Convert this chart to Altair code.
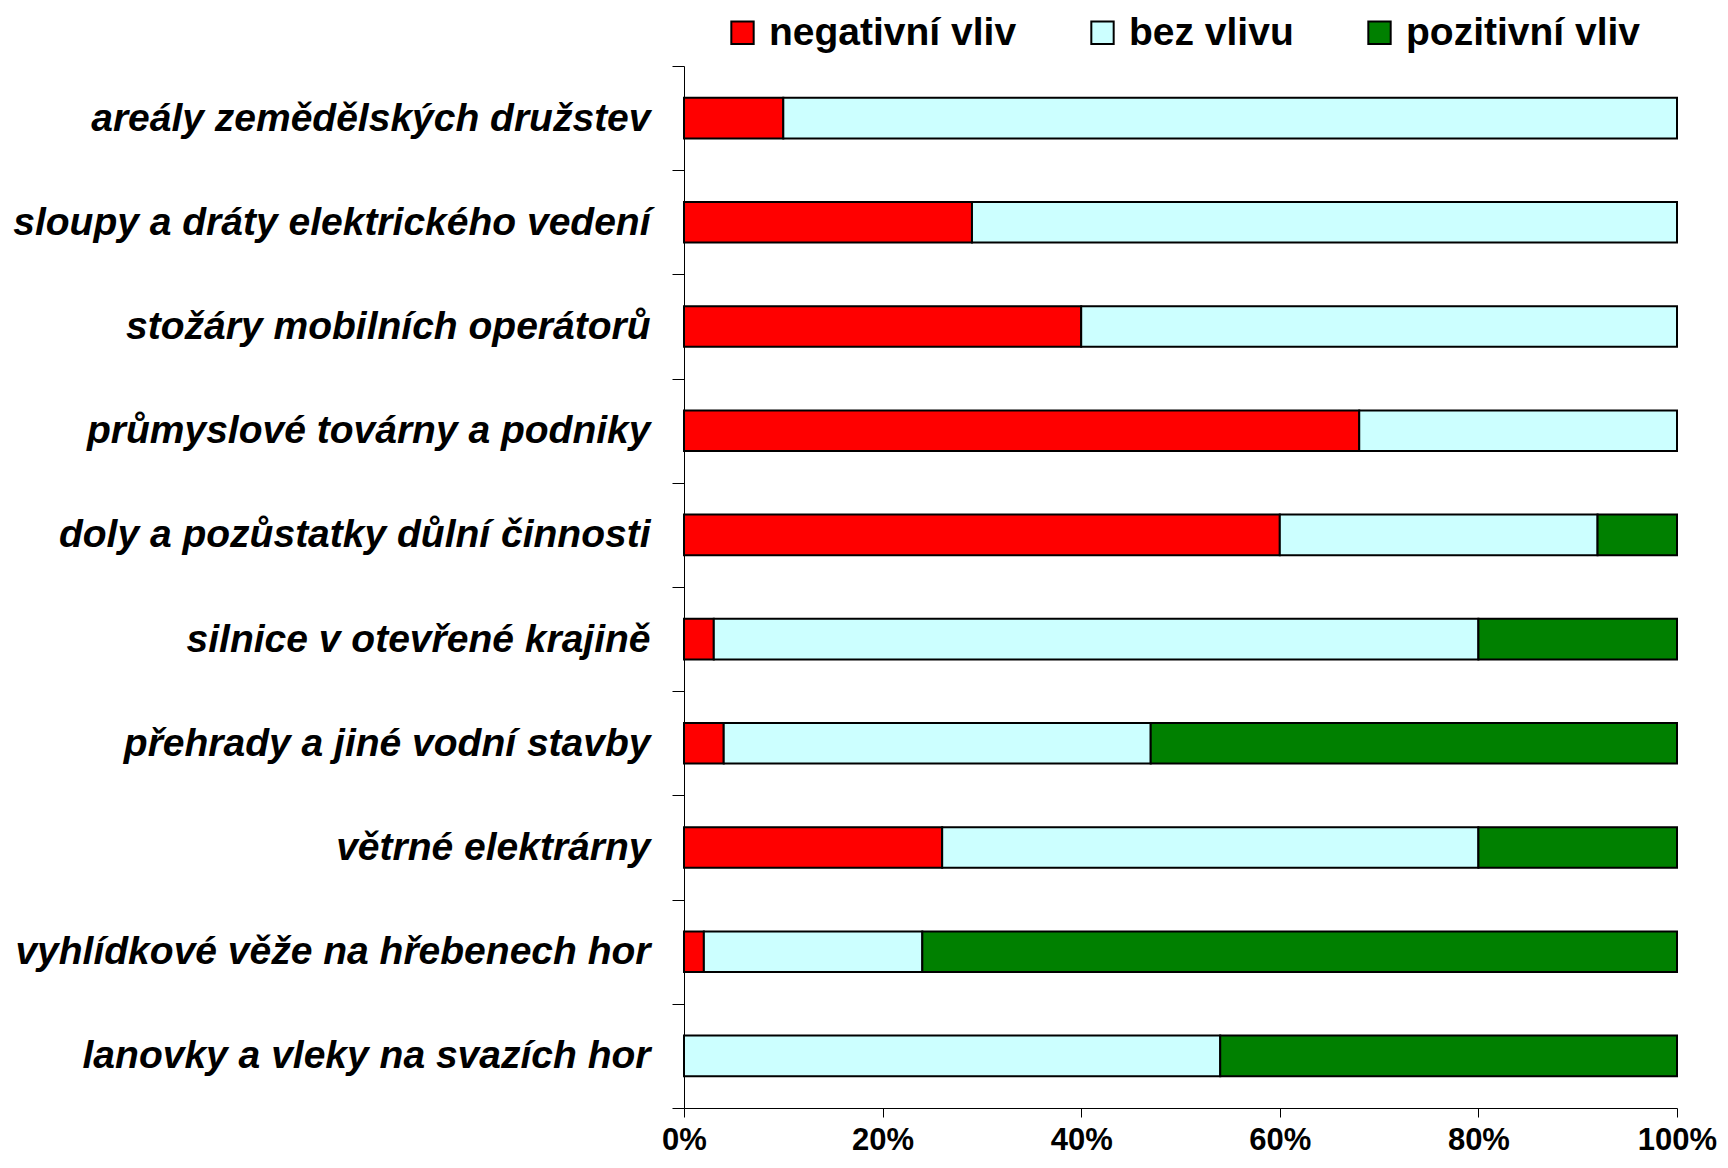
import altair as alt
import pandas as pd

categories = [
    "areály zemědělských družstev",
    "sloupy a dráty elektrického vedení",
    "stožáry mobilních operátorů",
    "průmyslové továrny a podniky",
    "doly a pozůstatky důlní činnosti",
    "silnice v otevřené krajině",
    "přehrady a jiné vodní stavby",
    "větrné elektrárny",
    "vyhlídkové věže na hřebenech hor",
    "lanovky a vleky na svazích hor",
]
negativni = [10, 29, 40, 68, 60, 3, 4, 26, 2, 0]
bez_vlivu = [90, 71, 60, 32, 32, 77, 43, 54, 22, 54]
pozitivni = [0, 0, 0, 0, 8, 20, 53, 20, 76, 46]
series = ["negativní vliv", "bez vlivu", "pozitivní vliv"]
colors = ["#FF0000", "#CCFFFF", "#008000"]
x_ticks = [0, 20, 40, 60, 80, 100]

rows = []
for i, cat in enumerate(categories):
    for j, vals in enumerate([negativni, bez_vlivu, pozitivni]):
        rows.append({"kategorie": cat, "serie": series[j], "poradi": j, "hodnota": vals[i]})
df = pd.DataFrame(rows)

FONT = "Liberation Sans"

chart = alt.Chart(df).mark_bar(
    stroke="black", strokeWidth=2, height={"band": 0.39}
).encode(
    y=alt.Y(
        "kategorie:N",
        sort=categories,
        scale=alt.Scale(paddingInner=0, paddingOuter=0),
        axis=alt.Axis(
            title=None,
            tickBand="extent",
            tickSize=12,
            tickColor="black",
            domainColor="black",
            labelPadding=22,
            labelFont=FONT,
            labelFontSize=39,
            labelFontWeight="bold",
            labelFontStyle="italic",
            labelColor="black",
            labelLimit=800,
            grid=False,
        ),
    ),
    x=alt.X(
        "hodnota:Q",
        stack="zero",
        scale=alt.Scale(domain=[0, 100], nice=False),
        axis=alt.Axis(
            title=None,
            values=x_ticks,
            labelExpr="datum.value + '%'",
            tickSize=9,
            tickColor="black",
            domainColor="black",
            labelPadding=8,
            labelFont=FONT,
            labelFontSize=31,
            labelFontWeight="bold",
            labelColor="black",
            labelFlush=False,
            labelOverlap=False,
            grid=False,
        ),
    ),
    fill=alt.Fill(
        "serie:N",
        sort=series,
        scale=alt.Scale(domain=series, range=colors),
        legend=alt.Legend(
            title=None,
            orient="none",
            legendX=39,
            legendY=-53,
            direction="horizontal",
            symbolType="square",
            symbolSize=500,
            symbolStrokeColor="black",
            symbolStrokeWidth=2,
            symbolOpacity=1,
            labelFont=FONT,
            labelFontSize=39,
            labelFontWeight="bold",
            labelColor="black",
            labelOffset=7,
            columnPadding=66,
            padding=0,
            labelLimit=500,
        ),
    ),
    order=alt.Order("poradi:Q", sort="ascending"),
).properties(
    width=993,
    height=1042,
    autosize=alt.AutoSizeParams(type="none"),
    padding={"left": 676, "top": 58, "right": 43, "bottom": 52},
).configure_view(stroke=None)

chart.save("out.html", embed_options={"renderer": "svg", "actions": False})
